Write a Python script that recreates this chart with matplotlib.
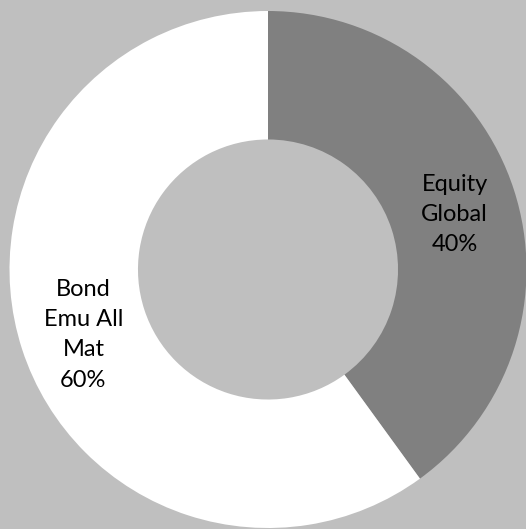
import matplotlib
matplotlib.use("Agg")
import matplotlib.pyplot as plt
from matplotlib.transforms import offset_copy

categories = ["Equity\nGlobal", "Bond\nEmu All\nMat"]
values = [40, 60]
colors = ["#808080", "#ffffff"]
bg = "#bfbfbf"

W, H = 526, 529
fig = plt.figure(figsize=(W / 100, H / 100), dpi=100, facecolor=bg)
cx, cy, r = 268, 259.5, 258.5  # cy measured from bottom
ax = fig.add_axes([(cx - r) / W, (cy - r) / H, 2 * r / W, 2 * r / H])
ax.set_facecolor(bg)
ax.axis("off")

labels = [f"{c}\n{v}%" for c, v in zip(categories, values)]
wedges, texts = ax.pie(
    values, colors=colors, startangle=90, counterclock=False, radius=1,
    labels=labels, labeldistance=0.755,
    wedgeprops=dict(width=0.497, edgecolor="none"),
    textprops=dict(ha="center", va="center", multialignment="center",
                   fontsize=17, family="Lato", color="#000000", linespacing=1.54),
)
for t in texts:
    t.set_transform(offset_copy(ax.transData, fig=fig, x=1, y=-5, units="dots"))
ax.set_xlim(-1, 1)
ax.set_ylim(-1, 1)
fig.savefig("out.png", dpi=100, facecolor=bg)
